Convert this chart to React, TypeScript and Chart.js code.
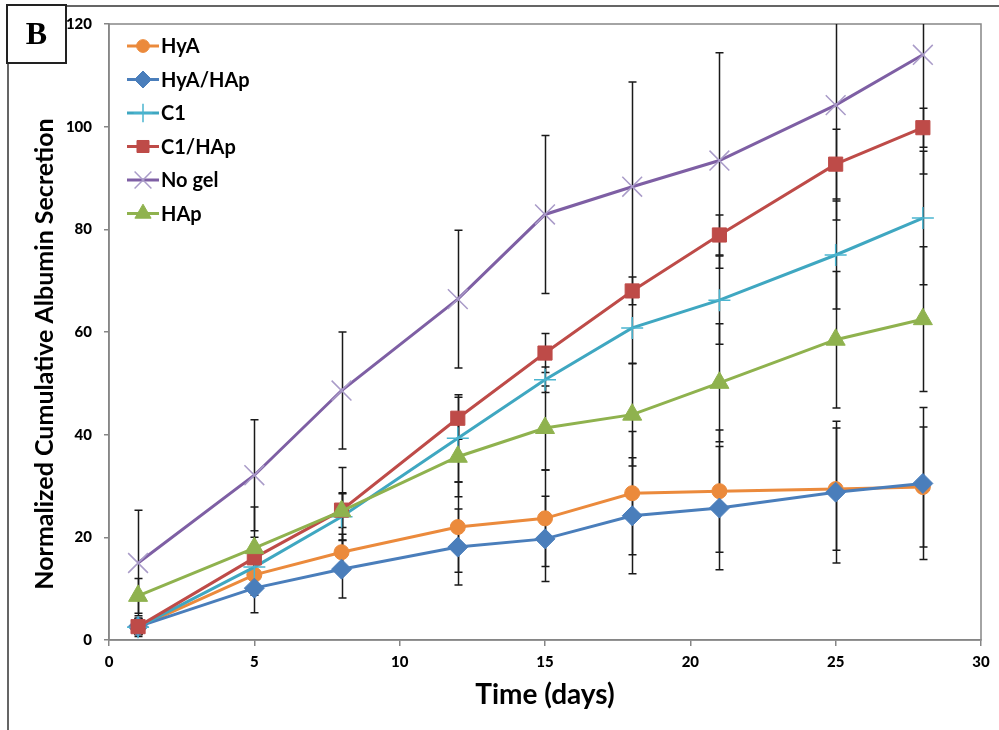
import { useEffect, useRef } from "react";
import { Chart, registerables } from "chart.js";
import { drawPoint } from "chart.js/helpers";
Chart.register(...registerables);

const FONT = "Lato, 'Open Sans', sans-serif";

const days = [1, 5, 8, 12, 15, 18, 21, 25, 28];
const xTicks = [0, 5, 10, 15, 20, 25, 30];
const yTicks = [0, 20, 40, 60, 80, 100, 120];

const hyA = [2.5, 12.7, 17.1, 22.0, 23.7, 28.6, 29.0, 29.4, 29.8];
const hyAErr = [1.5, 4.0, 3.5, 8.8, 9.4, 12.0, 11.9, 11.9, 11.7];
const hyAHAp = [2.6, 10.1, 13.8, 18.1, 19.7, 24.2, 25.7, 28.8, 30.5];
const hyAHApErr = [1.5, 4.8, 5.6, 7.4, 8.3, 11.3, 12.0, 13.8, 14.8];
const c1 = [2.5, 14.2, 24.0, 39.3, 50.7, 60.8, 66.2, 75.0, 82.2];
const c1Err = [1.8, 4.0, 4.5, 8.5, 2.5, 7.0, 8.6, 10.5, 13.0];
const c1HAp = [2.6, 16.0, 25.3, 43.2, 55.9, 68.0, 78.9, 92.7, 99.8];
const c1HApErr = [1.5, 4.0, 3.4, 4.1, 3.8, 2.7, 3.9, 6.8, 3.8];
const noGel = [15.0, 32.1, 48.6, 66.4, 82.9, 88.3, 93.4, 104.2, 114.0];
const noGelErr = [10.3, 10.8, 11.4, 13.4, 15.4, 20.4, 21.0, 22.4, 23.2];
const hAp = [8.6, 17.9, 25.1, 35.7, 41.3, 43.9, 50.1, 58.5, 62.5];
const hApErr = [3.4, 8.0, 8.5, 7.8, 8.2, 10.0, 11.5, 13.3, 14.1];

const seriesNames = ["HyA", "HyA/HAp", "C1", "C1/HAp", "No gel", "HAp"];
const seriesValues = [hyA, hyAHAp, c1, c1HAp, noGel, hAp];
const seriesErrors = [hyAErr, hyAHApErr, c1Err, c1HApErr, noGelErr, hApErr];

const styles = [
  { line: "#EB8A3C", fill: "#EB8A3C", border: "#EB8A3C", point: "circle", r: 7.5, bw: 1 },
  { line: "#4A7EBB", fill: "#4A7EBB", border: "#4A7EBB", point: "rectRot", r: 10, bw: 1 },
  { line: "#3FA7C1", fill: "#3FA7C1", border: "#4BB5D0", point: "cross", r: 11, bw: 1.5 },
  { line: "#BE4B48", fill: "#BE4B48", border: "#BE4B48", point: "rect", r: 10, bw: 1 },
  { line: "#7E5FA4", fill: "#A99BC8", border: "#A99BC8", point: "crossRot", r: 14, bw: 1.5 },
  { line: "#8FB24E", fill: "#8FB24E", border: "#8FB24E", point: "triangle", r: 11, bw: 1 },
];

const decorPlugin = {
  id: "decor",
  beforeDatasetsDraw(chart: any) {
    const { ctx, chartArea: a, scales } = chart;
    const xs = scales.x;
    const ys = scales.y;
    ctx.save();
    ctx.strokeStyle = "#868686";
    ctx.lineWidth = 1.5;
    ctx.strokeRect(a.left, a.top, a.right - a.left, a.bottom - a.top);
    ctx.beginPath();
    ctx.rect(a.left, a.top, a.right - a.left, a.bottom - a.top);
    ctx.clip();
    ctx.strokeStyle = "#1a1a1a";
    ctx.lineWidth = 1.5;
    seriesValues.forEach((vals, s) => {
      const errs = seriesErrors[s];
      vals.forEach((v, i) => {
        const px = Math.round(xs.getPixelForValue(days[i])) + 0.5;
        const top = ys.getPixelForValue(v + errs[i]);
        const bot = ys.getPixelForValue(v - errs[i]);
        ctx.beginPath();
        ctx.moveTo(px, top);
        ctx.lineTo(px, bot);
        ctx.moveTo(px - 4, top);
        ctx.lineTo(px + 4, top);
        ctx.moveTo(px - 4, bot);
        ctx.lineTo(px + 4, bot);
        ctx.stroke();
      });
    });
    ctx.restore();
  },
  afterDraw(chart: any) {
    const { ctx, chartArea: a } = chart;
    ctx.save();
    // legend
    const legendY = [46, 79.5, 113, 146.5, 180, 213.5];
    seriesNames.forEach((name, i) => {
      const st = styles[i];
      const y = legendY[i];
      ctx.strokeStyle = st.line;
      ctx.lineWidth = 3;
      ctx.beginPath();
      ctx.moveTo(a.left + 18, y);
      ctx.lineTo(a.left + 50, y);
      ctx.stroke();
      ctx.fillStyle = st.fill;
      ctx.strokeStyle = st.border;
      ctx.lineWidth = st.bw;
      drawPoint(ctx, { pointStyle: st.point, radius: st.r * 0.85, rotation: 0, borderWidth: st.bw }, a.left + 34, y);
      ctx.fillStyle = "#000";
      ctx.font = `bold 20px ${FONT}`;
      ctx.textAlign = "left";
      ctx.textBaseline = "middle";
      ctx.fillText(name, a.left + 52, y + 1);
    });
    // axis titles
    ctx.fillStyle = "#000";
    ctx.font = `bold 28px ${FONT}`;
    ctx.textAlign = "center";
    ctx.textBaseline = "middle";
    ctx.fillText("Time (days)", (a.left + a.right) / 2, 695);
    ctx.save();
    ctx.translate(45, 354);
    ctx.rotate(-Math.PI / 2);
    ctx.font = `bold 25px ${FONT}`;
    ctx.fillText("Normalized Cumulative Albumin Secretion", 0, 0);
    ctx.restore();
    // outer frame
    ctx.strokeStyle = "#333";
    ctx.lineWidth = 1.5;
    ctx.beginPath();
    ctx.moveTo(66, 6);
    ctx.lineTo(999, 6);
    ctx.moveTo(8, 63);
    ctx.lineTo(8, 730);
    ctx.stroke();
    // B box
    ctx.fillStyle = "#fff";
    ctx.fillRect(7, 5, 59, 58);
    ctx.lineWidth = 2;
    ctx.strokeStyle = "#222";
    ctx.strokeRect(7, 5, 59, 58);
    ctx.fillStyle = "#000";
    ctx.font = "bold 32px 'Liberation Serif', 'DejaVu Serif', serif";
    ctx.textAlign = "center";
    ctx.textBaseline = "middle";
    ctx.fillText("B", 36.5, 36);
    ctx.restore();
  },
};

export default function App() {
  const ref = useRef<HTMLCanvasElement>(null);
  useEffect(() => {
    if (!ref.current) return;
    const chart = new Chart(ref.current, {
      type: "line",
      data: {
        datasets: seriesNames.map((name, i) => ({
          label: name,
          data: days.map((d, j) => ({ x: d, y: seriesValues[i][j] })),
          borderColor: styles[i].line,
          backgroundColor: styles[i].fill,
          borderWidth: 3,
          pointStyle: styles[i].point as any,
          pointRadius: styles[i].r,
          pointBackgroundColor: styles[i].fill,
          pointBorderColor: styles[i].border,
          pointBorderWidth: styles[i].bw,
          tension: 0,
          fill: false,
          order: 10 - i,
        })),
      },
      options: {
        animation: false,
        responsive: false,
        devicePixelRatio: 1,
        layout: { padding: { left: 0, top: 24, right: 18, bottom: 0 } },
        plugins: { legend: { display: false }, tooltip: { enabled: false } },
        scales: {
          x: {
            type: "linear",
            min: 0,
            max: 30,
            afterFit: (s: any) => { s.height = 90; },
            afterBuildTicks: (s: any) => { s.ticks = xTicks.map((v) => ({ value: v })); },
            border: { display: true, color: "#868686", width: 1.5 },
            grid: { drawOnChartArea: false, drawTicks: true, tickLength: 6, color: "#868686", lineWidth: 1.5 },
            ticks: { color: "#000", font: { family: FONT, size: 15, weight: "900" }, padding: 7 },
          },
          y: {
            type: "linear",
            min: 0,
            max: 120,
            afterFit: (s: any) => { s.width = 109; },
            afterBuildTicks: (s: any) => { s.ticks = yTicks.map((v) => ({ value: v })); },
            border: { display: true, color: "#868686", width: 1.5 },
            grid: { drawOnChartArea: false, drawTicks: true, tickLength: 5, color: "#868686", lineWidth: 1.5 },
            ticks: { color: "#000", font: { family: FONT, size: 15, weight: "900" }, padding: 12 },
          },
        },
      },
      plugins: [decorPlugin],
    });
    return () => chart.destroy();
  }, []);
  return (
    <div style={{ position: "absolute", left: 0, top: 0, width: 999, height: 730, background: "#fff" }}>
      <canvas ref={ref} width={999} height={730} />
    </div>
  );
}
